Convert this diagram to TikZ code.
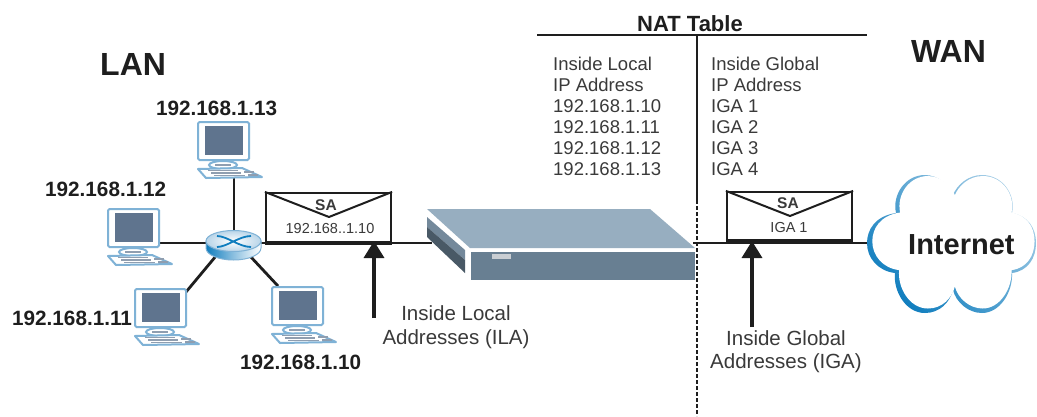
\documentclass[tikz,border=0pt]{standalone}
\usepackage{fontspec}
\setmainfont{Liberation Sans}
\usetikzlibrary{arrows.meta}
\definecolor{txt}{HTML}{3A3A3A}
\definecolor{ink}{HTML}{1E1E1E}
\definecolor{pcblue}{HTML}{7FB2D6}
\definecolor{screen}{HTML}{5F748E}
\definecolor{swtop}{HTML}{97AEC0}
\definecolor{swfront}{HTML}{687F92}
\definecolor{swled}{HTML}{C9CED3}
\definecolor{cloudd}{HTML}{0F7DBE}
\definecolor{cloudl}{HTML}{8CC0E0}
\newcommand{\cloudpath}{(896,213) .. controls (875,216) and (867,230) .. (867,243)
 .. controls (867,258) and (878,271) .. (895,273)
 .. controls (893,290) and (905,313) .. (925,313)
 .. controls (940,313) and (950,302) .. (953,290)
 .. controls (956,302) and (968,313) .. (982,313)
 .. controls (1000,313) and (1013,292) .. (1012,273)
 .. controls (1028,271) and (1036,258) .. (1036,243)
 .. controls (1036,228) and (1028,216) .. (1012,213)
 .. controls (1016,195) and (1003,175) .. (982,175)
 .. controls (968,175) and (957,185) .. (953,195)
 .. controls (949,185) and (938,175) .. (925,175)
 .. controls (905,175) and (892,195) .. (896,213) -- cycle}
\tikzset{
 x=1pt,y=-1pt,
 conn/.style={draw=ink,line width=2.8pt},
 link/.style={draw=ink,line width=2.4pt},
 arrowup/.style={draw=ink,line width=3.4pt,-{Triangle[length=17pt,width=20pt]}},
 biglabel/.style={font=\fontsize{32}{36}\selectfont\bfseries,text=ink,anchor=base west,inner sep=0pt},
 iplabel/.style={font=\fontsize{20.7}{24}\selectfont\bfseries,text=ink,anchor=base west,inner sep=0pt},
 tabletext/.style={font=\fontsize{18.5}{21}\selectfont,text=txt,anchor=north west,inner sep=0pt,align=left},
 calltext/.style={font=\fontsize{20.5}{23.5}\selectfont,text=txt,inner sep=0pt,align=center},
 envbox/.style={draw=ink,line width=2.2pt,fill=white,inner sep=0pt,minimum width=125pt},
 pics/pc/.style={code={
  \draw[pcblue,line width=2pt,fill=white,rounded corners=1.5pt] (0,0) rectangle (51,38);
  \fill[screen] (7,4) rectangle (45,33);
  \draw[pcblue,line width=2pt,fill=white] (25,43) ellipse [x radius=14,y radius=4];
  \fill[screen!70] (17,42) rectangle (33,44);
  \draw[pcblue,line width=2pt,fill=white,line join=round] (0,47) -- (44,46) -- (64,55) -- (8,56) -- cycle;
  \draw[screen!70,line width=1.4pt] (10,48.5) -- (40,48.5) (13,51) -- (43,51) (16,53.5) -- (47,53.5) (46,50) -- (56,50) (50,53) -- (60,53);
 }}
}
\begin{document}
\begin{tikzpicture}
\useasboundingbox (0,0) rectangle (1037,416);
\fill[white] (0,0) rectangle (1037,416);

% named junction points
\coordinate (rtop) at (234,232);
\coordinate (rleft) at (208,243);
\coordinate (rbl) at (216,256);
\coordinate (rbr) at (250,256);
\coordinate (rright) at (258,243);
\coordinate (pc13c) at (234,178);
\coordinate (pc12c) at (158,243);
\coordinate (pc11c) at (186,292);
\coordinate (pc10c) at (278,286);
\coordinate (swl) at (432,243);
\coordinate (swr) at (693,243);
\coordinate (cloudw) at (869,243);
\coordinate (ilatail) at (374,318);
\coordinate (ilatip) at (374,241);
\coordinate (igatail) at (752,327);
\coordinate (igatip) at (752,241);
\coordinate (divtop) at (697,35);
\coordinate (divmid) at (697,200);
\coordinate (divbot) at (697,416);
\coordinate (rulel) at (537,35);
\coordinate (ruler) at (867,35);

% connectors
\draw[conn] (pc13c) -- (rtop);
\draw[conn] (pc12c) -- (rleft);
\draw[conn] (pc11c) -- (rbl);
\draw[conn] (pc10c) -- (rbr);
\draw[link] (rright) -- (swl);
\draw[link] (swr) -- (cloudw);

% computers
\pic at (198,122) {pc};
\pic at (108,209) {pc};
\pic at (135,289) {pc};
\pic at (272,287) {pc};

% router
\begin{scope}
 \shade[left color=cloudd,right color=white,middle color=cloudl,draw=pcblue,line width=1pt]
  (206,241) -- (206,248) arc[start angle=180,end angle=0,x radius=27.5,y radius=12] -- (261,241) -- cycle;
 \shade[inner color=white,outer color=pcblue!55,draw=pcblue,line width=1pt] (233.5,241) ellipse [x radius=27.5,y radius=10.5];
 \draw[cloudd,line width=1.8pt] (217,236) .. controls (227,236) and (239,247) .. (251,247)
   (217,247) .. controls (227,247) and (239,236) .. (251,236);
\end{scope}

% envelopes
\node[envbox,minimum height=49pt] (env1) at (328.5,217.5) {};
\draw[draw=ink,line width=2pt,line join=round] (env1.north west) -- (329,217) -- (env1.north east);
\draw[draw=ink,line width=3.4pt] (env1.south west) -- (env1.south east);
\node[font=\fontsize{15.5}{18}\selectfont\bfseries,text=txt,inner sep=0pt] (sa1) at (326,205) {SA};
\node[font=\fontsize{14.5}{17}\selectfont,text=txt,inner sep=0pt] (ip1) at (330,229) {192.168..1.10};

\node[envbox,minimum height=48pt] (env2) at (789.5,216) {};
\draw[draw=ink,line width=2pt,line join=round] (env2.north west) -- (790,216) -- (env2.north east);
\draw[draw=ink,line width=3.4pt] (env2.south west) -- (env2.south east);
\node[font=\fontsize{15.5}{18}\selectfont\bfseries,text=txt,inner sep=0pt] (sa2) at (788,203) {SA};
\node[font=\fontsize{14.5}{17}\selectfont,text=txt,inner sep=0pt] (ig1) at (789,228) {IGA 1};

\draw[arrowup] (ilatail) -- (ilatip);
\draw[arrowup] (igatail) -- (igatip);

% NAT device
\fill[swtop] (427,209) -- (650,209) -- (695,248) -- (470,248) -- cycle;
\fill[swfront] (471,252) rectangle (695,279.5);
\fill[swled] (492,254) rectangle (511,259);
\fill[swfront!92!white] (427,217) -- (465,250) -- (465,260) -- (427,227) -- cycle;
\fill[swfront!70!black] (427,227) -- (465,260) -- (465,273) -- (427,237) -- cycle;

% table rules
\draw[draw=ink,line width=2pt] (rulel) -- (ruler);
\draw[draw=ink,line width=2.8pt] (divtop) -- (divmid);
\draw[draw=ink,line width=2.6pt,dash pattern=on 4pt off 2pt] (divmid) -- (divbot);

% cloud
\shade[left color=cloudd,right color=cloudl!80!white,shading angle=135] \cloudpath;
\begin{scope}[shift={(951.5,244)},xscale=.96,yscale=.96,shift={(-951.5,-244)},shift={(2,-1.8)}]
 \fill[white] \cloudpath;
\end{scope}
\node[font=\fontsize{29}{32}\selectfont\bfseries,text=ink,anchor=base west,inner sep=0pt] (inet) at (908,254) {Internet};

% labels
\node[biglabel] (lan) at (100,75) {LAN};
\node[biglabel] (wan) at (911,62) {WAN};
\node[iplabel] (l13) at (156,115) {192.168.1.13};
\node[iplabel] (l12) at (45,196) {192.168.1.12};
\node[iplabel] (l11) at (12,325) {192.168.1.11};
\node[iplabel] (l10) at (240,369) {192.168.1.10};
\node[font=\fontsize{22}{24}\selectfont\bfseries,text=ink,anchor=base,inner sep=0pt] (nat) at (690,31) {NAT Table};
\node[tabletext] (tl) at (553,57) {Inside Local\\IP Address\\192.168.1.10\\192.168.1.11\\192.168.1.12\\192.168.1.13};
\node[tabletext] (tr) at (711,57) {Inside Global\\IP Address\\IGA 1\\IGA 2\\IGA 3\\IGA 4};
\node[calltext] (ila) at (456,327) {Inside Local\\Addresses (ILA)};
\node[calltext] (iga) at (786,351.5) {Inside Global\\Addresses (IGA)};
\end{tikzpicture}
\end{document}
